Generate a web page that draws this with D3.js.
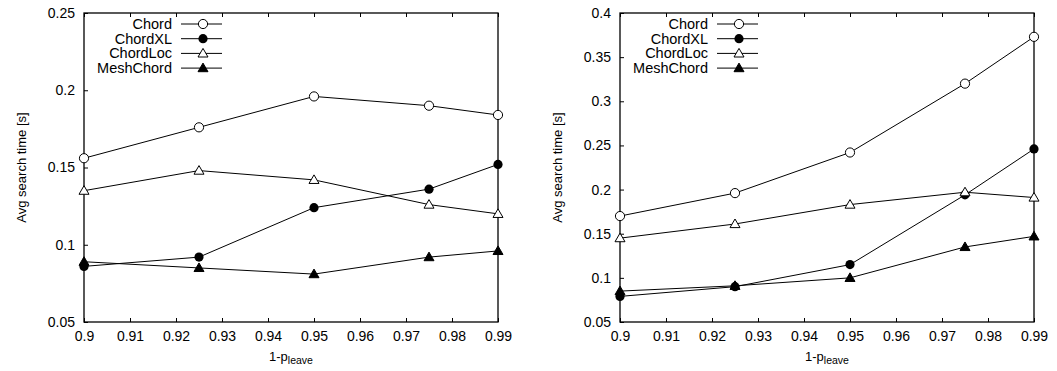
<!DOCTYPE html>
<html><head><meta charset="utf-8">
<script src="https://cdn.jsdelivr.net/npm/d3@7"></script>
<style>body{margin:0;background:#fff}svg{display:block}text{font-family:"Liberation Sans",Arial,sans-serif;fill:#000}</style>
</head><body>
<svg id="c" width="1057" height="371"></svg>
<script>
const xValues = [0.9, 0.925, 0.95, 0.975, 0.99];
const xTicks = [0.9, 0.91, 0.92, 0.93, 0.94, 0.95, 0.96, 0.97, 0.98, 0.99];
const seriesNames = ["Chord", "ChordXL", "ChordLoc", "MeshChord"];
const seriesMarkers = ["circleOpen", "circleFilled", "triOpen", "triFilled"];

const leftChord = [0.156, 0.176, 0.196, 0.190, 0.184];
const leftChordXL = [0.086, 0.092, 0.124, 0.136, 0.152];
const leftChordLoc = [0.135, 0.148, 0.142, 0.126, 0.120];
const leftMeshChord = [0.089, 0.085, 0.081, 0.092, 0.096];
const leftYTicks = [0.05, 0.1, 0.15, 0.2, 0.25];

const rightChord = [0.170, 0.196, 0.242, 0.320, 0.373];
const rightChordXL = [0.079, 0.090, 0.115, 0.194, 0.246];
const rightChordLoc = [0.145, 0.161, 0.183, 0.197, 0.191];
const rightMeshChord = [0.085, 0.091, 0.100, 0.135, 0.147];
const rightYTicks = [0.05, 0.1, 0.15, 0.2, 0.25, 0.3, 0.35, 0.4];

const svg = d3.select("#c");

function marker(g, type, x, y) {
  if (type === "circleOpen") g.append("circle").attr("cx", x).attr("cy", y).attr("r", 4.6).attr("fill", "#fff").attr("stroke", "#000").attr("stroke-width", 1);
  else if (type === "circleFilled") g.append("circle").attr("cx", x).attr("cy", y).attr("r", 4.6).attr("fill", "#000");
  else {
    const s = 5;
    const p = `M${x},${y - s}L${x + s},${y + s * 0.72}L${x - s},${y + s * 0.72}Z`;
    g.append("path").attr("d", p).attr("fill", type === "triFilled" ? "#000" : "#fff").attr("stroke", "#000").attr("stroke-width", 1);
  }
}

function panel(left, right, yMax, yTicks, series) {
  const top = 13, bottom = 322;
  const x = d3.scaleLinear().domain([0.9, 0.99]).range([left, right]);
  const y = d3.scaleLinear().domain([0.05, yMax]).range([bottom, top]);
  const g = svg.append("g");

  g.append("rect").attr("x", left).attr("y", top).attr("width", right - left).attr("height", bottom - top)
    .attr("fill", "none").attr("stroke", "#000").attr("stroke-width", 1.3);

  const xa = g.append("g").attr("transform", `translate(0,${bottom})`)
    .call(d3.axisBottom(x).tickValues(xTicks).tickSizeInner(-4).tickSizeOuter(0).tickPadding(9).tickFormat(d3.format("")));
  xa.select(".domain").remove();
  xa.selectAll("text").attr("font-size", 14).attr("font-family", "Liberation Sans, Arial, sans-serif");
  const xt = g.append("g").attr("transform", `translate(0,${top})`)
    .call(d3.axisTop(x).tickValues(xTicks).tickSizeInner(-4).tickSizeOuter(0).tickFormat(""));
  xt.select(".domain").remove();

  const ya = g.append("g").attr("transform", `translate(${left},0)`)
    .call(d3.axisLeft(y).tickValues(yTicks).tickSizeInner(-4).tickSizeOuter(0).tickPadding(9).tickFormat(d3.format("")));
  ya.select(".domain").remove();
  ya.selectAll("text").attr("font-size", 14).attr("font-family", "Liberation Sans, Arial, sans-serif");
  g.selectAll(".tick line").attr("stroke", "#000").attr("stroke-width", 1);

  const xl = g.append("text").attr("x", (left + right) / 2).attr("y", 361).attr("text-anchor", "middle").attr("font-size", 13);
  xl.append("tspan").text("1-p");
  xl.append("tspan").attr("font-size", 10.5).attr("dy", 3).text("leave");
  g.append("text").attr("transform", `translate(${left - 58},${(top + bottom) / 2}) rotate(-90)`)
    .attr("text-anchor", "middle").attr("font-size", 13).text("Avg search time [s]");

  const line = d3.line().x((d, i) => x(xValues[i])).y(d => y(d));
  series.forEach(vals => {
    g.append("path").attr("d", line(vals)).attr("fill", "none").attr("stroke", "#000").attr("stroke-width", 1);
  });
  series.forEach((vals, si) => {
    vals.forEach((v, i) => marker(g, seriesMarkers[si], x(xValues[i]), y(v)));
  });

  seriesNames.forEach((name, si) => {
    const ly = 24 + si * 14.7;
    g.append("text").attr("x", left + 88).attr("y", ly + 5).attr("text-anchor", "end").attr("font-size", 14.5).text(name);
    g.append("line").attr("x1", left + 97).attr("x2", left + 138).attr("y1", ly).attr("y2", ly).attr("stroke", "#000").attr("stroke-width", 1);
    marker(g, seriesMarkers[si], left + 119, ly);
  });
}

panel(84, 498, 0.25, leftYTicks, [leftChord, leftChordXL, leftChordLoc, leftMeshChord]);
panel(620, 1034, 0.4, rightYTicks, [rightChord, rightChordXL, rightChordLoc, rightMeshChord]);
</script>
</body></html>
